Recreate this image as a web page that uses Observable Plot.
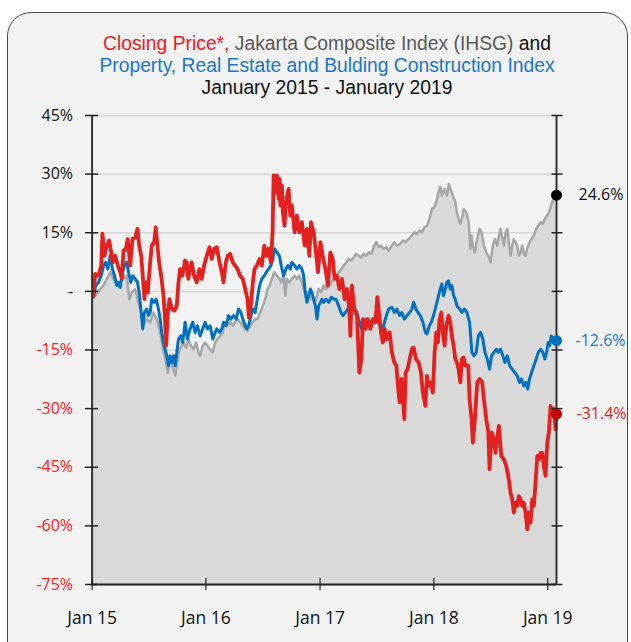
<!DOCTYPE html>
<html><head><meta charset="utf-8">
<script src="https://cdn.jsdelivr.net/npm/d3@7"></script>
<script src="https://cdn.jsdelivr.net/npm/@observablehq/plot@0.6"></script>
<style>
body{margin:0;background:#fff;font-family:"Open Sans",sans-serif;}
#card{position:absolute;left:7px;top:12px;width:621px;height:660px;box-sizing:border-box;border:1.5px solid #4a4a4a;border-radius:24px;background:#f2f2f2;}
#title{position:absolute;left:0;top:33px;width:654px;text-align:center;font-family:"Liberation Sans",Arial,sans-serif;font-size:19.3px;line-height:22px;color:#111;}
#chart{position:absolute;left:0;top:100px;}
</style></head><body>
<div id="card"></div>
<div id="title"><span style="color:#e8201f">Closing Price*,</span> <span style="color:#595959">Jakarta Composite Index (IHSG)</span> and<br><span style="color:#1b76c6">Property, Real Estate and Bulding Construction Index</span><br>January 2015 - January 2019</div>
<div id="chart"></div>
<script>
// time in decimal years, value in % change
const closingPrice = [[2015.012,-1.1],[2015.027,4.5],[2015.056,4.0],[2015.080,6.6],[2015.091,14.8],[2015.109,9.1],[2015.129,11.7],[2015.150,13.0],[2015.168,10.0],[2015.179,7.4],[2015.203,9.1],[2015.226,6.6],[2015.247,4.9],[2015.261,3.3],[2015.276,10.4],[2015.296,10.9],[2015.313,13.4],[2015.335,6.6],[2015.355,13.4],[2015.378,13.8],[2015.399,16.0],[2015.414,11.7],[2015.431,9.1],[2015.445,4.0],[2015.460,-2.0],[2015.471,2.3],[2015.489,-0.3],[2015.510,7.4],[2015.524,11.7],[2015.545,12.6],[2015.559,16.4],[2015.574,11.7],[2015.589,7.4],[2015.607,4.0],[2015.627,-1.1],[2015.642,-7.9],[2015.651,-13.9],[2015.665,-5.4],[2015.680,-2.0],[2015.700,-4.5],[2015.723,-4.9],[2015.744,-3.7],[2015.759,2.3],[2015.773,5.7],[2015.794,4.0],[2015.817,7.9],[2015.831,7.4],[2015.845,3.2],[2015.855,4.9],[2015.875,7.4],[2015.896,4.0],[2015.919,2.3],[2015.943,5.7],[2015.963,3.2],[2015.984,6.6],[2016.007,9.1],[2016.031,11.3],[2016.051,8.3],[2016.072,10.9],[2016.095,11.3],[2016.119,7.4],[2016.139,4.9],[2016.154,2.3],[2016.174,7.4],[2016.191,9.1],[2016.212,9.6],[2016.235,7.4],[2016.256,6.6],[2016.277,5.7],[2016.300,4.0],[2016.323,3.2],[2016.344,0.6],[2016.364,-2.0],[2016.376,-6.7],[2016.393,-3.7],[2016.411,2.3],[2016.426,5.7],[2016.446,6.6],[2016.470,8.3],[2016.490,6.6],[2016.511,11.7],[2016.529,9.1],[2016.549,10.9],[2016.569,7.4],[2016.584,15.1],[2016.593,29.7],[2016.608,25.4],[2016.622,29.7],[2016.637,23.7],[2016.645,28.8],[2016.652,22.0],[2016.666,27.1],[2016.674,20.2],[2016.689,16.8],[2016.701,22.8],[2016.724,26.2],[2016.739,19.4],[2016.753,22.0],[2016.777,15.1],[2016.797,19.4],[2016.818,15.1],[2016.841,17.7],[2016.865,11.7],[2016.885,16.0],[2016.906,9.1],[2016.920,17.7],[2016.944,15.1],[2016.964,10.0],[2016.982,4.9],[2017.003,12.6],[2017.023,9.1],[2017.047,5.7],[2017.069,1.5],[2017.090,10.0],[2017.111,8.3],[2017.128,3.2],[2017.148,4.0],[2017.169,0.6],[2017.192,3.2],[2017.216,-2.0],[2017.236,0.6],[2017.257,-4.5],[2017.266,-11.4],[2017.280,1.5],[2017.301,-4.5],[2017.324,-6.2],[2017.345,-20.8],[2017.363,-17.3],[2017.377,-7.1],[2017.398,-9.6],[2017.421,-7.1],[2017.442,-9.6],[2017.464,-7.1],[2017.486,-7.9],[2017.503,-1.5],[2017.514,-4.5],[2017.535,-10.5],[2017.552,-13.1],[2017.567,-9.6],[2017.587,-12.2],[2017.611,-10.5],[2017.631,-15.6],[2017.652,-18.2],[2017.670,-19.0],[2017.684,-24.2],[2017.699,-28.4],[2017.714,-22.4],[2017.728,-27.6],[2017.740,-32.7],[2017.752,-20.8],[2017.769,-19.9],[2017.787,-17.3],[2017.807,-14.8],[2017.822,-14.4],[2017.842,-17.3],[2017.866,-18.2],[2017.886,-20.8],[2017.903,-25.9],[2017.925,-29.3],[2017.939,-21.6],[2017.954,-24.2],[2017.974,-23.3],[2017.991,-25.9],[2018.006,-15.6],[2018.021,-10.5],[2018.035,-13.1],[2018.050,-7.1],[2018.065,-5.4],[2018.079,-10.5],[2018.094,-13.9],[2018.109,-8.8],[2018.129,-6.2],[2018.144,-7.9],[2018.158,-11.4],[2018.173,-13.9],[2018.188,-17.3],[2018.202,-18.2],[2018.217,-19.9],[2018.232,-23.3],[2018.246,-17.3],[2018.261,-16.9],[2018.276,-19.0],[2018.302,-19.0],[2018.313,-27.6],[2018.331,-32.7],[2018.342,-38.7],[2018.360,-32.7],[2018.381,-23.3],[2018.401,-22.4],[2018.425,-23.3],[2018.439,-27.6],[2018.460,-32.7],[2018.478,-36.1],[2018.489,-45.5],[2018.507,-36.1],[2018.527,-37.8],[2018.542,-41.3],[2018.557,-37.0],[2018.571,-34.4],[2018.592,-42.1],[2018.615,-43.0],[2018.636,-44.7],[2018.658,-48.1],[2018.673,-51.5],[2018.688,-53.2],[2018.702,-56.6],[2018.717,-54.1],[2018.732,-54.9],[2018.746,-52.4],[2018.761,-53.2],[2018.776,-54.9],[2018.790,-54.1],[2018.805,-56.6],[2018.820,-60.9],[2018.834,-56.6],[2018.849,-59.2],[2018.864,-53.2],[2018.878,-54.9],[2018.893,-48.9],[2018.908,-42.1],[2018.922,-43.0],[2018.937,-41.3],[2018.952,-41.3],[2018.966,-44.7],[2018.981,-47.2],[2018.996,-38.7],[2019.010,-36.1],[2019.025,-29.3],[2019.039,-31.0],[2019.054,-30.1],[2019.069,-35.3],[2019.077,-31.4]];

const propertyIndex = [[2015.012,-1.5],[2015.032,1.5],[2015.056,2.3],[2015.080,4.0],[2015.100,6.6],[2015.120,7.4],[2015.138,5.7],[2015.159,9.1],[2015.179,5.7],[2015.197,4.0],[2015.217,1.5],[2015.232,2.3],[2015.247,1.0],[2015.261,4.0],[2015.284,6.6],[2015.305,7.4],[2015.320,4.9],[2015.340,2.3],[2015.357,4.0],[2015.378,3.2],[2015.399,2.3],[2015.414,-0.3],[2015.428,-4.5],[2015.445,-9.6],[2015.460,-5.4],[2015.480,-4.5],[2015.495,-6.2],[2015.510,-5.4],[2015.524,-2.0],[2015.545,-2.8],[2015.563,-2.0],[2015.583,-4.5],[2015.598,-7.1],[2015.612,-10.5],[2015.627,-13.1],[2015.642,-14.8],[2015.656,-16.5],[2015.671,-19.0],[2015.686,-16.5],[2015.700,-18.2],[2015.715,-16.5],[2015.730,-19.0],[2015.744,-15.6],[2015.759,-12.2],[2015.779,-11.4],[2015.796,-13.1],[2015.817,-7.9],[2015.838,-12.2],[2015.861,-9.6],[2015.884,-7.9],[2015.905,-10.5],[2015.925,-8.8],[2015.949,-11.4],[2015.972,-9.6],[2015.993,-7.9],[2016.013,-9.6],[2016.037,-8.8],[2016.060,-12.2],[2016.081,-10.5],[2016.095,-9.6],[2016.119,-10.5],[2016.139,-9.6],[2016.154,-7.9],[2016.177,-8.8],[2016.198,-6.2],[2016.218,-7.1],[2016.241,-6.2],[2016.265,-7.1],[2016.285,-4.5],[2016.306,-5.4],[2016.323,-7.1],[2016.344,-8.8],[2016.358,-9.6],[2016.373,-8.8],[2016.388,-7.1],[2016.402,-5.4],[2016.417,-4.5],[2016.432,-5.4],[2016.446,-2.8],[2016.470,1.5],[2016.490,3.2],[2016.511,4.0],[2016.529,4.9],[2016.549,5.7],[2016.569,6.6],[2016.587,8.3],[2016.601,10.9],[2016.622,10.0],[2016.643,9.1],[2016.660,6.6],[2016.680,4.0],[2016.701,5.7],[2016.718,6.6],[2016.739,5.7],[2016.753,7.4],[2016.777,6.6],[2016.797,5.7],[2016.818,6.6],[2016.841,5.7],[2016.856,4.0],[2016.871,-0.3],[2016.885,-2.8],[2016.900,-1.1],[2016.915,0.6],[2016.929,-0.3],[2016.944,-2.0],[2016.959,-3.7],[2016.973,-7.1],[2016.988,-3.7],[2017.003,-2.8],[2017.017,-2.0],[2017.032,-2.8],[2017.052,-2.0],[2017.076,-2.8],[2017.099,-1.5],[2017.119,-2.0],[2017.140,-2.0],[2017.163,-3.7],[2017.184,-5.4],[2017.201,-6.2],[2017.222,-5.4],[2017.242,-4.5],[2017.260,-5.4],[2017.280,-4.5],[2017.304,-4.5],[2017.324,-5.4],[2017.345,-7.9],[2017.363,-9.6],[2017.383,-8.8],[2017.403,-7.1],[2017.427,-8.8],[2017.450,-7.9],[2017.471,-7.1],[2017.500,-7.1],[2017.529,-8.8],[2017.552,-9.6],[2017.573,-7.1],[2017.602,-4.5],[2017.631,-4.1],[2017.652,-5.4],[2017.675,-4.5],[2017.699,-6.2],[2017.719,-5.4],[2017.740,-7.1],[2017.763,-6.2],[2017.787,-5.4],[2017.807,-4.5],[2017.822,-2.8],[2017.842,-4.5],[2017.860,-5.4],[2017.881,-6.2],[2017.903,-7.9],[2017.925,-10.5],[2017.939,-10.9],[2017.960,-8.8],[2017.977,-7.9],[2017.997,-6.2],[2018.012,-4.5],[2018.026,-2.8],[2018.041,-1.1],[2018.056,0.6],[2018.070,1.9],[2018.085,-1.1],[2018.100,0.6],[2018.114,2.3],[2018.129,2.7],[2018.144,0.6],[2018.158,1.5],[2018.173,-1.1],[2018.188,-2.0],[2018.202,-3.7],[2018.226,-4.5],[2018.246,-5.4],[2018.267,-4.5],[2018.290,-5.4],[2018.313,-7.9],[2018.320,-10.5],[2018.334,-15.6],[2018.351,-16.5],[2018.372,-15.6],[2018.390,-11.4],[2018.410,-10.5],[2018.430,-12.2],[2018.448,-15.6],[2018.469,-17.3],[2018.489,-19.9],[2018.507,-16.5],[2018.527,-15.6],[2018.548,-14.8],[2018.566,-15.6],[2018.586,-14.8],[2018.606,-16.5],[2018.624,-18.2],[2018.645,-16.5],[2018.665,-19.0],[2018.688,-19.9],[2018.711,-20.8],[2018.732,-21.6],[2018.752,-23.3],[2018.770,-22.4],[2018.790,-24.2],[2018.811,-23.3],[2018.825,-25.0],[2018.840,-22.4],[2018.858,-20.8],[2018.878,-19.0],[2018.899,-17.3],[2018.917,-15.6],[2018.937,-14.8],[2018.957,-15.6],[2018.975,-17.3],[2018.990,-15.6],[2019.004,-13.1],[2019.016,-13.9],[2019.031,-11.4],[2019.045,-12.2],[2019.060,-13.1],[2019.077,-12.6]];

const ihsg = [[2015.012,-1.5],[2015.041,-0.7],[2015.071,0.6],[2015.100,1.5],[2015.129,3.2],[2015.159,4.9],[2015.188,3.2],[2015.217,1.5],[2015.247,2.3],[2015.276,3.2],[2015.305,4.0],[2015.326,-2.0],[2015.349,-0.3],[2015.378,0.6],[2015.407,-2.8],[2015.431,-5.4],[2015.451,-8.8],[2015.480,-7.1],[2015.510,-7.9],[2015.539,-5.4],[2015.568,-7.1],[2015.598,-10.5],[2015.618,-13.9],[2015.642,-17.3],[2015.665,-20.8],[2015.686,-18.2],[2015.706,-19.0],[2015.730,-21.6],[2015.744,-19.0],[2015.765,-14.8],[2015.788,-13.9],[2015.803,-13.1],[2015.826,-14.4],[2015.846,-12.2],[2015.867,-13.9],[2015.890,-14.8],[2015.914,-13.1],[2015.934,-15.6],[2015.949,-16.5],[2015.972,-13.9],[2015.993,-13.1],[2016.013,-13.9],[2016.037,-14.8],[2016.060,-15.6],[2016.081,-13.1],[2016.101,-12.2],[2016.125,-11.4],[2016.148,-10.5],[2016.169,-7.9],[2016.189,-8.8],[2016.212,-7.9],[2016.235,-8.8],[2016.256,-7.9],[2016.277,-7.1],[2016.300,-7.9],[2016.323,-8.8],[2016.344,-9.6],[2016.364,-10.1],[2016.388,-8.8],[2016.411,-7.9],[2016.432,-7.1],[2016.452,-7.1],[2016.476,-5.4],[2016.499,-3.7],[2016.520,-2.0],[2016.540,0.6],[2016.558,1.5],[2016.578,3.2],[2016.599,4.9],[2016.622,4.0],[2016.645,3.2],[2016.660,2.3],[2016.680,4.0],[2016.695,-1.1],[2016.709,3.2],[2016.730,2.3],[2016.753,3.2],[2016.777,4.0],[2016.797,3.2],[2016.818,4.0],[2016.841,2.3],[2016.865,-0.3],[2016.885,-2.0],[2016.906,-1.1],[2016.929,-2.0],[2016.953,-2.8],[2016.973,-1.1],[2016.988,0.6],[2017.011,-0.3],[2017.032,1.5],[2017.052,0.6],[2017.076,1.5],[2017.099,2.3],[2017.119,3.2],[2017.140,4.0],[2017.163,4.9],[2017.187,5.7],[2017.207,6.6],[2017.231,7.4],[2017.251,8.3],[2017.275,7.9],[2017.295,8.7],[2017.315,9.6],[2017.339,9.1],[2017.363,8.7],[2017.383,9.6],[2017.403,9.1],[2017.427,10.0],[2017.450,9.6],[2017.471,11.3],[2017.494,12.6],[2017.514,11.3],[2017.535,11.7],[2017.558,10.9],[2017.582,11.3],[2017.602,10.4],[2017.631,11.7],[2017.652,12.6],[2017.675,11.7],[2017.699,12.1],[2017.728,13.0],[2017.749,12.6],[2017.778,13.4],[2017.807,14.3],[2017.828,15.1],[2017.851,14.7],[2017.875,15.6],[2017.895,15.1],[2017.916,16.4],[2017.939,16.8],[2017.962,18.6],[2017.982,21.1],[2018.004,21.5],[2018.021,22.8],[2018.041,25.4],[2018.056,26.7],[2018.070,24.5],[2018.091,26.2],[2018.114,24.5],[2018.132,27.5],[2018.149,25.8],[2018.167,24.5],[2018.188,22.8],[2018.202,20.2],[2018.217,18.6],[2018.232,17.3],[2018.246,18.6],[2018.261,21.1],[2018.284,20.2],[2018.305,17.7],[2018.320,10.9],[2018.331,14.3],[2018.342,11.7],[2018.360,10.0],[2018.381,13.4],[2018.401,16.0],[2018.419,15.1],[2018.439,11.7],[2018.460,10.0],[2018.478,9.1],[2018.498,7.4],[2018.518,11.7],[2018.536,13.4],[2018.557,11.7],[2018.571,14.3],[2018.586,16.0],[2018.601,13.4],[2018.615,11.7],[2018.630,15.1],[2018.645,16.0],[2018.658,12.6],[2018.673,9.1],[2018.688,11.7],[2018.702,13.4],[2018.717,12.6],[2018.732,11.7],[2018.746,9.1],[2018.761,10.0],[2018.776,11.7],[2018.790,9.6],[2018.805,9.1],[2018.820,10.9],[2018.840,12.6],[2018.858,13.4],[2018.878,14.3],[2018.899,16.0],[2018.917,16.8],[2018.937,17.7],[2018.957,17.3],[2018.975,18.6],[2018.996,19.4],[2019.010,20.2],[2019.025,21.5],[2019.039,22.8],[2019.054,24.1],[2019.077,24.6]];

const yTicks = [45, 30, 15, 0, -15, -30, -45, -60, -75];
const xTickYears = [2015, 2016, 2017, 2018, 2019];
const xTickLabels = ["Jan 15", "Jan 16", "Jan 17", "Jan 18", "Jan 19"];

function toDate(t) {
  const y = Math.floor(t);
  const a = Date.UTC(y, 0, 1), b = Date.UTC(y + 1, 0, 1);
  return new Date(a + (t - y) * (b - a));
}
const rows = arr => arr.map(([t, v]) => ({date: toDate(t), v}));
const red = rows(closingPrice), blue = rows(propertyIndex), gray = rows(ihsg);
const xStart = toDate(xTickYears[0]);
const xEnd = d3.max(red, d => d.date);
const xTicks = xTickYears.map(toDate);
const lastOf = a => [a[a.length - 1]];
const fmtY = d => d === 0 ? "-" : d + "%";
const pos = yTicks.filter(d => d >= 0), neg = yTicks.filter(d => d < 0);
const FONT = "Open Sans";

const chart = Plot.plot({
  width: 631, height: 542,
  marginLeft: 91.6, marginRight: 75, marginTop: 15, marginBottom: 58,
  x: {type: "utc", domain: [xStart, xEnd]},
  y: {domain: [-75, 45]},
  style: {background: "transparent", fontFamily: FONT, fontSize: "16px", color: "#111"},
  marks: [
    Plot.gridY(yTicks, {stroke: "#d6d6d6", strokeOpacity: 1, strokeWidth: 1.5}),
    Plot.areaY(gray, {x: "date", y1: -75, y2: "v", fill: "#d9d9d9"}),
    Plot.lineY(gray, {x: "date", y: "v", stroke: "#a6a6a6", strokeWidth: 2.5}),
    Plot.lineY(blue, {x: "date", y: "v", stroke: "#0070c0", strokeWidth: 3}),
    Plot.lineY(red, {x: "date", y: "v", stroke: "#e3211f", strokeWidth: 3.8}),
    Plot.ruleX([xStart, xEnd], {stroke: "#333", strokeWidth: 2}),
    Plot.ruleY([-75], {stroke: "#222", strokeWidth: 2}),
    Plot.axisY(yTicks, {anchor: "left", tickSize: 13, dx: 6.5, tickFormat: () => "", label: null, stroke: "#222", strokeWidth: 1.5}),
    Plot.axisY(yTicks, {anchor: "right", tickSize: 11, dx: -5.5, tickFormat: () => "", label: null, stroke: "#222", strokeWidth: 1.5}),
    Plot.axisY(pos, {anchor: "left", tickSize: 0, tickPadding: 19, tickFormat: fmtY, label: null, fill: "#111", fontSize: 16}),
    Plot.axisY(neg, {anchor: "left", tickSize: 0, tickPadding: 19, tickFormat: fmtY, label: null, fill: "#ff1c1c", fontSize: 16}),
    Plot.axisX(xTicks, {anchor: "bottom", tickSize: 12, dy: -6, tickFormat: () => "", label: null, stroke: "#222", strokeWidth: 1.2}),
    Plot.axisX(xTicks, {anchor: "bottom", tickSize: 0, tickPadding: 27, tickFormat: (d, i) => xTickLabels[i], label: null, fill: "#111", fontSize: 17.5}),
    Plot.dot(lastOf(gray), {x: "date", y: "v", r: 5.5, fill: "#000"}),
    Plot.dot(lastOf(blue), {x: "date", y: "v", r: 5.5, fill: "#0070c0"}),
    Plot.dot(lastOf(red), {x: "date", y: "v", r: 5.5, fill: "#c00000"}),
    Plot.text(lastOf(gray), {x: "date", y: "v", text: d => d.v.toFixed(1) + "%", dx: 22, textAnchor: "start", fill: "#111", fontSize: 16}),
    Plot.text(lastOf(blue), {x: "date", y: "v", text: d => d.v.toFixed(1) + "%", dx: 19, textAnchor: "start", fill: "#1b76c6", fontSize: 16}),
    Plot.text(lastOf(red), {x: "date", y: "v", text: d => d.v.toFixed(1) + "%", dx: 20, textAnchor: "start", fill: "#e3211f", fontSize: 16})
  ]
});
document.getElementById("chart").appendChild(chart);
</script>
</body></html>
